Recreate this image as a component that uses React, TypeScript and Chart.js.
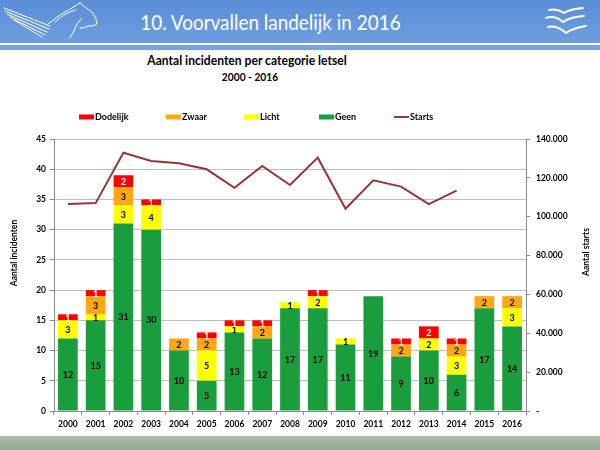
import React, { useEffect, useRef } from "react";
import { Chart, registerables } from "chart.js";

Chart.register(...registerables);

const years = ["2000","2001","2002","2003","2004","2005","2006","2007","2008","2009","2010","2011","2012","2013","2014","2015","2016"];
const geen = [12,15,31,30,10,5,13,12,17,17,11,19,9,10,6,17,14];
const licht = [3,1,3,4,0,5,1,0,1,2,1,0,0,2,3,0,3];
const zwaar = [0,3,3,0,2,2,0,2,0,0,0,0,2,0,2,2,2];
const dodelijk = [1,1,2,1,0,1,1,1,0,1,0,0,1,2,1,0,0];
const starts = [106500,107000,132900,128700,127500,124400,114900,126100,116300,130400,104100,118700,115500,106500,113400,null,null];

const legendOrder = ["Dodelijk","Zwaar","Licht","Geen","Starts"];
const FONT = 'Lato, "DejaVu Sans", sans-serif';

const fmtDots = (v: number) => (v === 0 ? "-" : String(v).replace(/\B(?=(\d{3})+(?!\d))/g, "."));

const decorPlugin = {
  id: "decor",
  afterDatasetsDraw(chart: any) {
    const ctx = chart.ctx;
    ctx.save();
    ctx.font = `bold 9px ${FONT}`;
    ctx.textAlign = "center";
    ctx.textBaseline = "middle";
    chart.data.datasets.forEach((ds: any, di: number) => {
      if (ds.type === "line") return;
      const meta = chart.getDatasetMeta(di);
      meta.data.forEach((el: any, i: number) => {
        const v = ds.data[i];
        if (!v) return;
        const p = el.getProps(["x", "y", "base"], true);
        ctx.fillStyle = ds.labelColor || "#000";
        ctx.fillText(String(v), p.x, (p.y + p.base) / 2 + 0.5);
      });
    });
    ctx.restore();
  },
  afterDraw(chart: any) {
    const ctx = chart.ctx;
    const opts = chart.options.plugins.decor;
    ctx.save();
    ctx.font = `bold 9px ${FONT}`;
    ctx.textBaseline = "middle";
    ctx.textAlign = "left";
    const y = opts.legendY;
    legendOrder.forEach((name, k) => {
      const ds = chart.data.datasets.find((d: any) => d.label === name);
      const x = opts.legendX[k];
      if (ds.type === "line") {
        ctx.strokeStyle = ds.borderColor;
        ctx.lineWidth = 2;
        ctx.beginPath();
        ctx.moveTo(x, y);
        ctx.lineTo(x + 15, y);
        ctx.stroke();
      } else {
        ctx.fillStyle = ds.backgroundColor;
        ctx.fillRect(x, y - 2.5, 15, 5);
      }
      ctx.fillStyle = "#000";
      ctx.fillText(name, x + 16, y);
    });
    ctx.font = `bold 8.5px ${FONT}`;
    ctx.textAlign = "center";
    const drawV = (text: string, x: number, yc: number) => {
      ctx.save();
      ctx.translate(x, yc);
      ctx.rotate(-Math.PI / 2);
      ctx.fillText(text, 0, 0);
      ctx.restore();
    };
    drawV("Aantal incidenten", opts.leftTitleX, opts.leftTitleY);
    drawV("Aantal starts", opts.rightTitleX, opts.rightTitleY);
    ctx.restore();
  },
};

export default function App() {
  const ref = useRef<HTMLCanvasElement>(null);
  useEffect(() => {
    const gridCol = "#bfbfbf";
    const axisCol = "#8c8c8c";
    const chart = new Chart(ref.current!, {
      type: "bar",
      data: {
        labels: years,
        datasets: [
          { type: "line", label: "Starts", data: starts, yAxisID: "y1", borderColor: "#953735", backgroundColor: "#953735", borderWidth: 2, pointRadius: 0, tension: 0, order: -1, spanGaps: false } as any,
          { label: "Geen", data: geen, backgroundColor: "#1a9e3d", yAxisID: "y", stack: "s", labelColor: "#000" } as any,
          { label: "Licht", data: licht, backgroundColor: "#ffff00", yAxisID: "y", stack: "s", labelColor: "#000" } as any,
          { label: "Zwaar", data: zwaar, backgroundColor: "#ffa812", yAxisID: "y", stack: "s", labelColor: "#000" } as any,
          { label: "Dodelijk", data: dodelijk, backgroundColor: "#ff0000", yAxisID: "y", stack: "s", labelColor: "#fff" } as any,
        ],
      },
      options: {
        responsive: false,
        animation: false,
        devicePixelRatio: 1,
        layout: { padding: { top: 139, left: 0, right: 0, bottom: 0 } },
        datasets: { bar: { barPercentage: 0.71, categoryPercentage: 1 } },
        plugins: {
          legend: { display: false },
          title: { display: false },
          tooltip: { enabled: false },
          decor: { legendY: 117, legendX: [79, 166, 244, 319, 394], leftTitleX: 14, leftTitleY: 253, rightTitleX: 586, rightTitleY: 252 },
        } as any,
        scales: {
          x: {
            stacked: true,
            grid: { display: true, drawOnChartArea: false, offset: true, tickLength: 4, color: axisCol },
            border: { display: true, color: axisCol },
            ticks: { color: "#000", font: { family: FONT, size: 8.5, weight: "bold" }, padding: 4, maxRotation: 0, autoSkip: false },
            afterFit: (s: any) => { s.height = 39; },
          },
          y: {
            stacked: true,
            position: "left",
            min: 0,
            max: 45,
            ticks: { stepSize: 5, color: "#000", font: { family: FONT, size: 8.5, weight: "bold" }, padding: 4 },
            grid: { color: gridCol, tickLength: 4, tickColor: axisCol },
            border: { display: true, color: axisCol },
            afterFit: (s: any) => { s.width = 54; },
          },
          y1: {
            position: "right",
            min: 0,
            max: 140000,
            ticks: { stepSize: 20000, color: "#000", font: { family: FONT, size: 8.5, weight: "bold" }, padding: 6, callback: (v: any) => fmtDots(Number(v)) },
            grid: { drawOnChartArea: false, tickLength: 4, color: axisCol },
            border: { display: true, color: axisCol },
            afterFit: (s: any) => { s.width = 74; },
          },
        },
      } as any,
      plugins: [decorPlugin],
    });
    return () => chart.destroy();
  }, []);

  return (
    <div style={{ position: "absolute", left: 0, top: 0, width: 600, height: 450, background: "#fff", overflow: "hidden", fontFamily: FONT }}>
      <div style={{ position: "absolute", left: 0, top: 0, width: 600, height: 43, background: "linear-gradient(#5a8ed7, #6f9de0)" }} />
      <div style={{ position: "absolute", left: 0, top: 45, width: 600, height: 5, background: "#78a3e0" }} />
      <svg width={600} height={50} style={{ position: "absolute", left: 0, top: 0 }}>
        <g stroke="#fff" strokeWidth={1} fill="none" strokeLinecap="round">
          <path d="M4 8 L50 26" /><path d="M5 11 L49 29" /><path d="M7 14 L47 32" /><path d="M10 17 L45 35" /><path d="M14 20 L42 37" />
          <path d="M48 24 Q60 14 72 8 Q78 4 80 3" />
          <path d="M55 22 Q66 12 76 10" />
          <path d="M80 3 Q86 8 92 12 Q97 18 97 24 Q93 27 88 26" />
          <path d="M82 18 Q78 22 76 26 Q74 32 70 38" />
          <path d="M88 26 Q86 28 80 28" />
        </g>
        <g stroke="#fff" strokeWidth={2} fill="none" strokeLinecap="round">
          <path d="M549 10 Q556 8 564 13 Q570 9 583 8" />
          <path d="M546 18 Q555 15 563 22 Q570 17 584 16" />
          <path d="M548 27 Q557 25 566 33 Q573 28 586 26" />
        </g>
      </svg>
      <div style={{ position: "absolute", left: 0, top: 4, width: 541, height: 36, lineHeight: "36px", textAlign: "center", color: "#fff", fontSize: 22, fontFamily: FONT, whiteSpace: "nowrap", transform: "scaleX(0.86)", transformOrigin: "270px 18px" }}>
        10. Voorvallen landelijk in 2016
      </div>
      <div style={{ position: "absolute", left: 0, top: 51, width: 494, textAlign: "center", fontWeight: "bold", fontSize: 13, lineHeight: "18px", color: "#000", whiteSpace: "nowrap", transform: "scaleX(0.93)", transformOrigin: "247px 9px" }}>
        Aantal incidenten per categorie letsel
      </div>
      <div style={{ position: "absolute", left: 0, top: 69, width: 500, textAlign: "center", fontWeight: "bold", fontSize: 11, lineHeight: "16px", color: "#000", whiteSpace: "nowrap", transform: "scaleX(0.93)", transformOrigin: "250px 8px" }}>
        2000 - 2016
      </div>
      <canvas ref={ref} width={600} height={450} style={{ position: "absolute", left: 0, top: 0, width: 600, height: 450 }} />
      <div style={{ position: "absolute", left: 0, top: 436, width: 600, height: 14, background: "linear-gradient(#a9bda9, #93ab95)" }} />
    </div>
  );
}
